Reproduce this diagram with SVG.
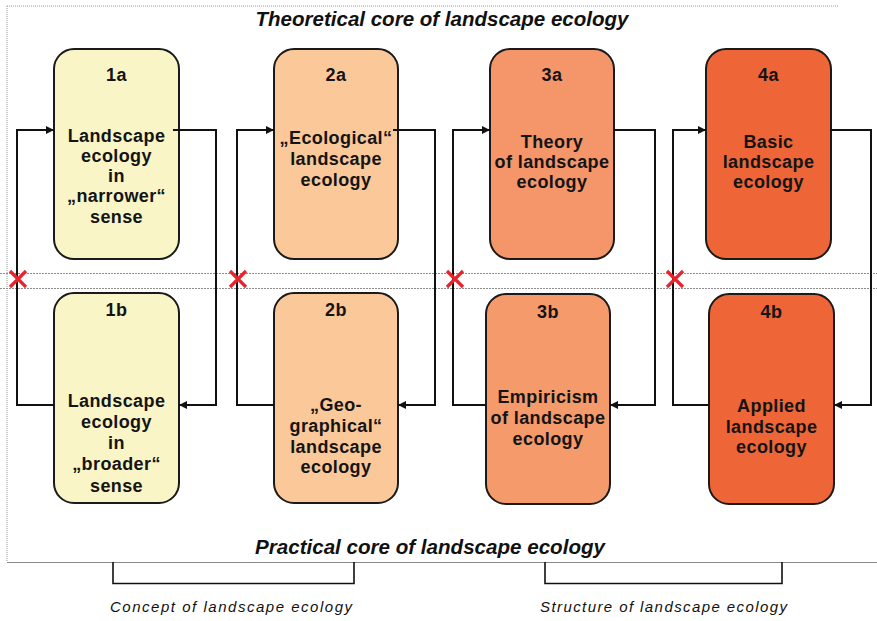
<svg xmlns="http://www.w3.org/2000/svg" width="877" height="621" viewBox="0 0 877 621">
<style>
.box{stroke:#1a1a1a;stroke-width:2}
.c1{fill:#FAF5C6}
.c2{fill:#FBC899}
.c3a{fill:#F4956A}
.c3b{fill:#F59A6B}
.c4{fill:#EE6537}
.t{font-family:"Liberation Sans",Arial,sans-serif;font-weight:bold;font-size:18px;fill:#141414;text-anchor:middle;letter-spacing:0.4px}
.conn{fill:none;stroke:#111;stroke-width:2}
.cross{stroke:#E8232B;stroke-width:3.2;stroke-linecap:butt}
.guide{stroke:#8a8a8a;stroke-width:1;fill:none}
.dot{stroke:#999;stroke-width:1;stroke-dasharray:1 1;fill:none}
.hl{stroke:#8c8c8c;stroke-width:1;stroke-dasharray:2 1;fill:none}
.brk{fill:none;stroke:#111;stroke-width:1.6}
.cap{font-family:"Liberation Sans",Arial,sans-serif;font-style:italic;font-size:15px;fill:#111}
.head{font-family:"Liberation Sans",Arial,sans-serif;font-style:italic;font-weight:bold;font-size:20px;fill:#111;text-anchor:middle}
</style>
<defs>
<marker id="arr" markerUnits="userSpaceOnUse" markerWidth="9" markerHeight="9" refX="8" refY="4" orient="auto">
<path d="M0,0 L8,4 L0,8 z" fill="#111"/>
</marker>
</defs>
<rect width="877" height="621" fill="#fff"/>
<g id="frame">
<path class="dot" d="M7,6 V562"/>
<path class="dot" d="M7,6 H838"/>
<path class="guide" d="M7,562.5 H877"/>
<path class="hl" d="M0,273.5 H877"/>
<path class="hl" d="M0,288.5 H877"/>
</g>
<g id="titles">
<text class="head" x="442" y="26" textLength="373" lengthAdjust="spacingAndGlyphs">Theoretical core of landscape ecology</text>
<text class="head" x="430" y="554" textLength="350" lengthAdjust="spacingAndGlyphs">Practical core of landscape ecology</text>
</g>
<g id="n1a">
<rect class="box c1" x="54" y="49" width="125" height="210" rx="20"/>
<text class="t" x="116.5" y="81">1a</text>
<text class="t" x="116.5" y="142">Landscape</text>
<text class="t" x="116.5" y="162">ecology</text>
<text class="t" x="116.5" y="182">in</text>
<text class="t" x="116.5" y="202">„narrower“</text>
<text class="t" x="116.5" y="223">sense</text>
</g>
<g id="n1b">
<rect class="box c1" x="54" y="293" width="125" height="210" rx="20"/>
<text class="t" x="116.5" y="316">1b</text>
<text class="t" x="116.5" y="407">Landscape</text>
<text class="t" x="116.5" y="428">ecology</text>
<text class="t" x="116.5" y="449">in</text>
<text class="t" x="116.5" y="470">„broader“</text>
<text class="t" x="116.5" y="492">sense</text>
</g>
<g id="n2a">
<rect class="box c2" x="274" y="49" width="124" height="210" rx="20"/>
<text class="t" x="336" y="81">2a</text>
<text class="t" x="336" y="144">„Ecological“</text>
<text class="t" x="336" y="165">landscape</text>
<text class="t" x="336" y="186">ecology</text>
</g>
<g id="n2b">
<rect class="box c2" x="274" y="293" width="124" height="210" rx="20"/>
<text class="t" x="336" y="316">2b</text>
<text class="t" x="336" y="411">„Geo-</text>
<text class="t" x="336" y="432">graphical“</text>
<text class="t" x="336" y="453">landscape</text>
<text class="t" x="336" y="473">ecology</text>
</g>
<g id="n3a">
<rect class="box c3a" x="490" y="49" width="124" height="210" rx="20"/>
<text class="t" x="552" y="81">3a</text>
<text class="t" x="552" y="148">Theory</text>
<text class="t" x="552" y="168">of landscape</text>
<text class="t" x="552" y="188">ecology</text>
</g>
<g id="n3b">
<rect class="box c3b" x="486" y="294" width="124" height="210" rx="20"/>
<text class="t" x="548" y="318">3b</text>
<text class="t" x="548" y="403">Empiricism</text>
<text class="t" x="548" y="424">of landscape</text>
<text class="t" x="548" y="445">ecology</text>
</g>
<g id="n4a">
<rect class="box c4" x="706" y="49" width="125" height="210" rx="20"/>
<text class="t" x="768.5" y="81">4a</text>
<text class="t" x="768.5" y="148">Basic</text>
<text class="t" x="768.5" y="168">landscape</text>
<text class="t" x="768.5" y="188">ecology</text>
</g>
<g id="n4b">
<rect class="box c4" x="709" y="294" width="125" height="210" rx="20"/>
<text class="t" x="771.5" y="318">4b</text>
<text class="t" x="771.5" y="412">Applied</text>
<text class="t" x="771.5" y="433">landscape</text>
<text class="t" x="771.5" y="453">ecology</text>
</g>
<g id="connectors">
<path class="conn" d="M54,405 H17 V130 H54" marker-end="url(#arr)"/>
<path class="conn" d="M173,130 H216 V405 H179" marker-end="url(#arr)"/>
<path class="conn" d="M274,405 H237 V130 H274" marker-end="url(#arr)"/>
<path class="conn" d="M393,130 H435 V405 H398" marker-end="url(#arr)"/>
<path class="conn" d="M486,405 H453 V130 H490" marker-end="url(#arr)"/>
<path class="conn" d="M614,130 H655 V405 H610" marker-end="url(#arr)"/>
<path class="conn" d="M709,405 H673 V130 H706" marker-end="url(#arr)"/>
<path class="conn" d="M830,130 H871 V405 H834" marker-end="url(#arr)"/>
</g>
<g id="crosses">
<path class="cross" d="M10,271 L26,287 M26,271 L10,287"/>
<path class="cross" d="M230,271 L246,287 M246,271 L230,287"/>
<path class="cross" d="M447,271 L463,287 M463,271 L447,287"/>
<path class="cross" d="M667,271 L683,287 M683,271 L667,287"/>
</g>
<g id="brackets">
<path class="brk" d="M113,562 V583.5 H354 V562"/>
<path class="brk" d="M545,562 V583.5 H782 V562"/>
<text class="cap" x="110" y="612" textLength="242" lengthAdjust="spacing">Concept of  landscape  ecology</text>
<text class="cap" x="540" y="612" textLength="247" lengthAdjust="spacing">Structure of landscape ecology</text>
</g>
</svg>
